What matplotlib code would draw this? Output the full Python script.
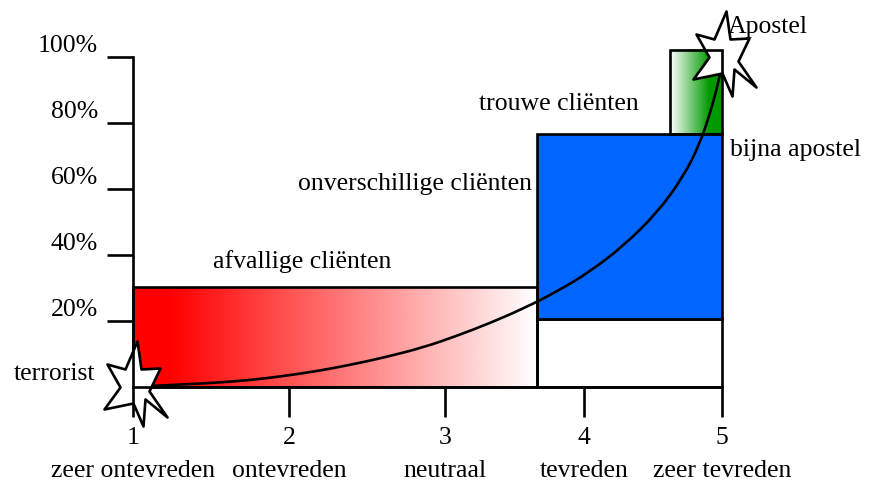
import matplotlib
matplotlib.use("Agg")
import matplotlib.pyplot as plt
import numpy as np
from matplotlib.colors import LinearSegmentedColormap
from matplotlib.patches import PathPatch, Rectangle
from matplotlib.path import Path

# satisfaction scale (x ticks are not evenly spaced in the original)
tick_values = [1, 2, 3, 4, 5]
tick_pos = [1.0, 2.0, 3.0, 3.891, 4.776]
tick_names = ["zeer ontevreden", "ontevreden", "neutraal", "tevreden", "zeer tevreden"]

y_ticks = [20, 40, 60, 80, 100]

# customer segments: (x0, x1, bottom, top) in axis units / percent
red_seg = (1.0, 3.59, 0.0, 30.3)
blue_seg = (3.59, 4.776, 20.6, 76.8)
white_seg = (3.59, 4.776, 0.0, 20.6)
green_seg = (4.442, 4.776, 76.8, 102.3)

# loyalty curve
curve_x = [1.0, 1.322, 1.537, 1.750, 1.963, 2.178, 2.391, 2.605, 2.861, 3.075,
           3.288, 3.502, 3.716, 3.929, 4.143, 4.357, 4.528, 4.635, 4.699,
           4.752, 4.776]
curve_y = [0.0, 0.8, 1.3, 2.1, 3.3, 4.8, 6.7, 8.9, 12.0, 15.5,
           19.4, 23.8, 28.9, 35.0, 42.8, 52.7, 63.8, 74.0, 83.1,
           92.2, 97.7]

# segment labels: text, x, baseline y, alignment
seg_labels = [
    ("afvallige cliënten", 2.083, 36.1, "center"),
    ("onverschillige cliënten", 3.558, 59.8, "right"),
    ("trouwe cliënten", 4.244, 84.1, "right"),
    ("bijna apostel", 4.827, 70.1, "left"),
    ("Apostel", 4.814, 107.4, "left"),
    ("terrorist", 0.756, 2.1, "right"),
]

FONT = "Liberation Serif"
FS = 18.5
LW = 1.9
RED = "#ff0000"
BLUE = "#0066ff"
GREEN = "#009900"

fig = plt.figure(figsize=(8.77, 4.83), dpi=100)
ax = fig.add_axes([0, 0, 1, 1])
ax.patch.set_alpha(0)


def gradient(seg, c0, c1, start, stop):
    x0, x1, y0, y1 = seg
    cmap = LinearSegmentedColormap.from_list("g", [c0, c1])
    t = np.linspace(0, 1, 400)
    t = np.clip((t - start) / (stop - start), 0, 1)
    ax.imshow(t[None, :], cmap=cmap, extent=(x0, x1, y0, y1), aspect="auto",
              interpolation="bilinear", zorder=1, vmin=0, vmax=1)


def outline(seg, zorder, fc="none"):
    x0, x1, y0, y1 = seg
    ax.add_patch(Rectangle((x0, y0), x1 - x0, y1 - y0, fc=fc, ec="black",
                           lw=LW, zorder=zorder, joinstyle="miter"))


def smooth_path(xs, ys):
    # quadratic beziers through the midpoints, read points as control points
    pts = np.column_stack([xs, ys])
    verts = [pts[0]]
    codes = [Path.MOVETO]
    for k in range(1, len(pts) - 1):
        mid = (pts[k] + pts[k + 1]) / 2 if k < len(pts) - 2 else pts[k + 1]
        verts += [pts[k], mid]
        codes += [Path.CURVE3, Path.CURVE3]
    return Path(verts, codes)


gradient(red_seg, RED, "white", 0.09, 1.0)
gradient(green_seg, "white", GREEN, 0.0, 0.75)
ax.set_xlim(0.1474, 5.7692)
ax.set_ylim(-29.14, 117.45)

outline(white_seg, 1, fc="white")
outline(blue_seg, 1, fc=BLUE)
outline(red_seg, 1.5)

ax.add_patch(PathPatch(smooth_path(curve_x, curve_y), fc="none", ec="black",
                       lw=LW, zorder=2, capstyle="round"))

# star marker (pixel units, y down, relative to star centre)
outer = [(2, -44), (25, -17), (32, 32), (8, 41), (-31, 24), (-28, -21)]
inner = [(6, -16), (14, 6), (10, 14), (-2, 18), (-15, 2), (-10, -16)]
verts = []
for o, i in zip(outer, inner):
    verts += [o, i]
verts.append(verts[0])
verts = np.array(verts, dtype=float)
verts[:, 0] += 2
verts[:, 1] -= 2
verts[:, 1] *= -1
codes = [Path.MOVETO] + [Path.LINETO] * (len(verts) - 2) + [Path.CLOSEPOLY]
star = Path(verts, codes)
ms = 2 * np.abs(verts).max() * 72 / 100
ax.plot([tick_pos[0], tick_pos[-1]], [0, 100], ls="none", marker=star,
        markersize=ms, mfc="white", mec="black", mew=LW, zorder=3)

# green box outline drawn above the star
outline(green_seg, 4)

# axes
for s in ("top", "right"):
    ax.spines[s].set_visible(False)
ax.spines["left"].set_position(("data", 1.0))
ax.spines["bottom"].set_position(("data", 0.0))
ax.spines["left"].set_bounds(0, 100)
ax.spines["bottom"].set_bounds(tick_pos[0], tick_pos[-1])
for s in ("left", "bottom"):
    ax.spines[s].set_linewidth(LW)
    ax.spines[s].set_zorder(5)
ax.xaxis.set_zorder(5)
ax.yaxis.set_zorder(5)

ax.set_xticks(tick_pos, [f"{v}\n{n}" for v, n in zip(tick_values, tick_names)])
ax.set_yticks(y_ticks, [])
ax.tick_params(axis="x", direction="out", length=21.6, width=LW, pad=7.5)
ax.tick_params(axis="y", direction="out", length=18.7, width=LW)
for lab in ax.get_xticklabels():
    lab.set_fontfamily(FONT)
    lab.set_fontsize(FS)
    lab.set_linespacing(1.6)
    lab.set_multialignment("center")

for v in y_ticks:
    ax.text(0.776, v + 1.6, f"{v}%", ha="right", va="baseline",
            fontfamily=FONT, fontsize=FS)

for txt, x, y, ha in seg_labels:
    ax.text(x, y, txt, ha=ha, va="baseline",
            fontfamily=FONT, fontsize=FS, zorder=6)

fig.savefig("out.png", dpi=100)
